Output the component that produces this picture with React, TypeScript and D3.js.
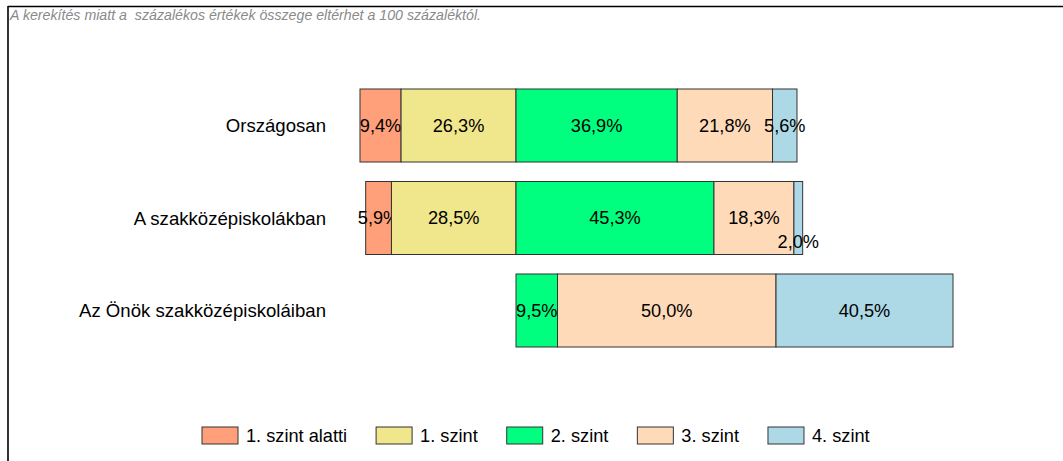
import React, { useEffect, useRef } from "react";
import * as d3 from "d3";

const categories = ["Országosan", "A szakközépiskolákban", "Az Önök szakközépiskoláiban"];
const levels = ["1. szint alatti", "1. szint", "2. szint", "3. szint", "4. szint"];
const below1 = [9.4, 5.9, 0];
const level1 = [26.3, 28.5, 0];
const level2 = [36.9, 45.3, 9.5];
const level3 = [21.8, 18.3, 50.0];
const level4 = [5.6, 2.0, 40.5];
const colors = ["#FFA07A", "#F0E68C", "#00FF7F", "#FFDAB9", "#ADD8E6"];
const note = "A kerekítés miatt a  százalékos értékek összege eltérhet a 100 százaléktól.";

const W = 1063;
const H = 461;
const FONT = "'Liberation Sans', Arial, sans-serif";
const FS = 18.2;

export default function App() {
  const ref = useRef<SVGSVGElement>(null);

  useEffect(() => {
    const svg = d3.select(ref.current);
    svg.selectAll("*").remove();

    // frame
    svg.append("line").attr("x1", 8).attr("x2", W).attr("y1", 6.5).attr("y2", 6.5)
      .attr("stroke", "#000").attr("stroke-width", 1.6);
    svg.append("line").attr("x1", 8).attr("x2", 8).attr("y1", 6).attr("y2", H)
      .attr("stroke", "#000").attr("stroke-width", 1.6);

    svg.append("text").attr("x", 10).attr("y", 20)
      .attr("font-family", FONT).attr("font-size", 14.2).attr("font-style", "italic")
      .attr("fill", "#8a8a8a").style("white-space", "pre")
      .text(note);

    const x = d3.scaleLinear().domain([-40, 60]).range([516 - 40 * 4.37, 516 + 60 * 4.37]);
    const y = d3.scaleBand<string>().domain(categories).range([89, 347])
      .paddingInner(0.2108).paddingOuter(0);

    const series = [below1, level1, level2, level3, level4];

    categories.forEach((cat, i) => {
      const vals = series.map((s) => s[i]);
      let start = -(vals[0] + vals[1]);
      const g = svg.append("g");
      const y0 = y(cat) as number;
      const bh = y.bandwidth();
      vals.forEach((v, k) => {
        const a = start;
        const b = start + v;
        start = b;
        if (v <= 0) return;
        const x0 = x(a);
        const x1 = x(b);
        g.append("rect").attr("x", x0).attr("y", y0).attr("width", x1 - x0).attr("height", bh)
          .attr("fill", colors[k]).attr("stroke", "#333").attr("stroke-width", 1);
        const w = x1 - x0;
        const shift = w < 12 ? 24 : 0;
        g.append("text").attr("x", (x0 + x1) / 2).attr("y", y0 + bh / 2 + shift)
          .attr("dy", "0.35em").attr("text-anchor", "middle")
          .attr("font-family", FONT).attr("font-size", FS).attr("fill", "#000")
          .text(v.toFixed(1).replace(".", ",") + "%");
      });
      svg.append("text").attr("x", 326).attr("y", y0 + bh / 2).attr("dy", "0.35em")
        .attr("text-anchor", "end").attr("font-family", FONT).attr("font-size", 18.6)
        .attr("fill", "#000").text(cat);
    });

    // legend
    let lx = 202;
    const ly = 427;
    levels.forEach((lab, k) => {
      const lg = svg.append("g");
      lg.append("rect").attr("x", lx).attr("y", ly).attr("width", 36).attr("height", 17)
        .attr("fill", colors[k]).attr("stroke", "#333").attr("stroke-width", 1);
      const t = lg.append("text").attr("x", lx + 44).attr("y", ly + 8.5).attr("dy", "0.35em")
        .attr("font-family", FONT).attr("font-size", FS).attr("fill", "#000").text(lab);
      const tw = (t.node() as SVGTextElement).getComputedTextLength();
      lx = lx + 44 + tw + 29;
    });
  }, []);

  return (
    <svg ref={ref} width={W} height={H}
      style={{ position: "absolute", left: 0, top: 0, background: "#fff" }} />
  );
}
